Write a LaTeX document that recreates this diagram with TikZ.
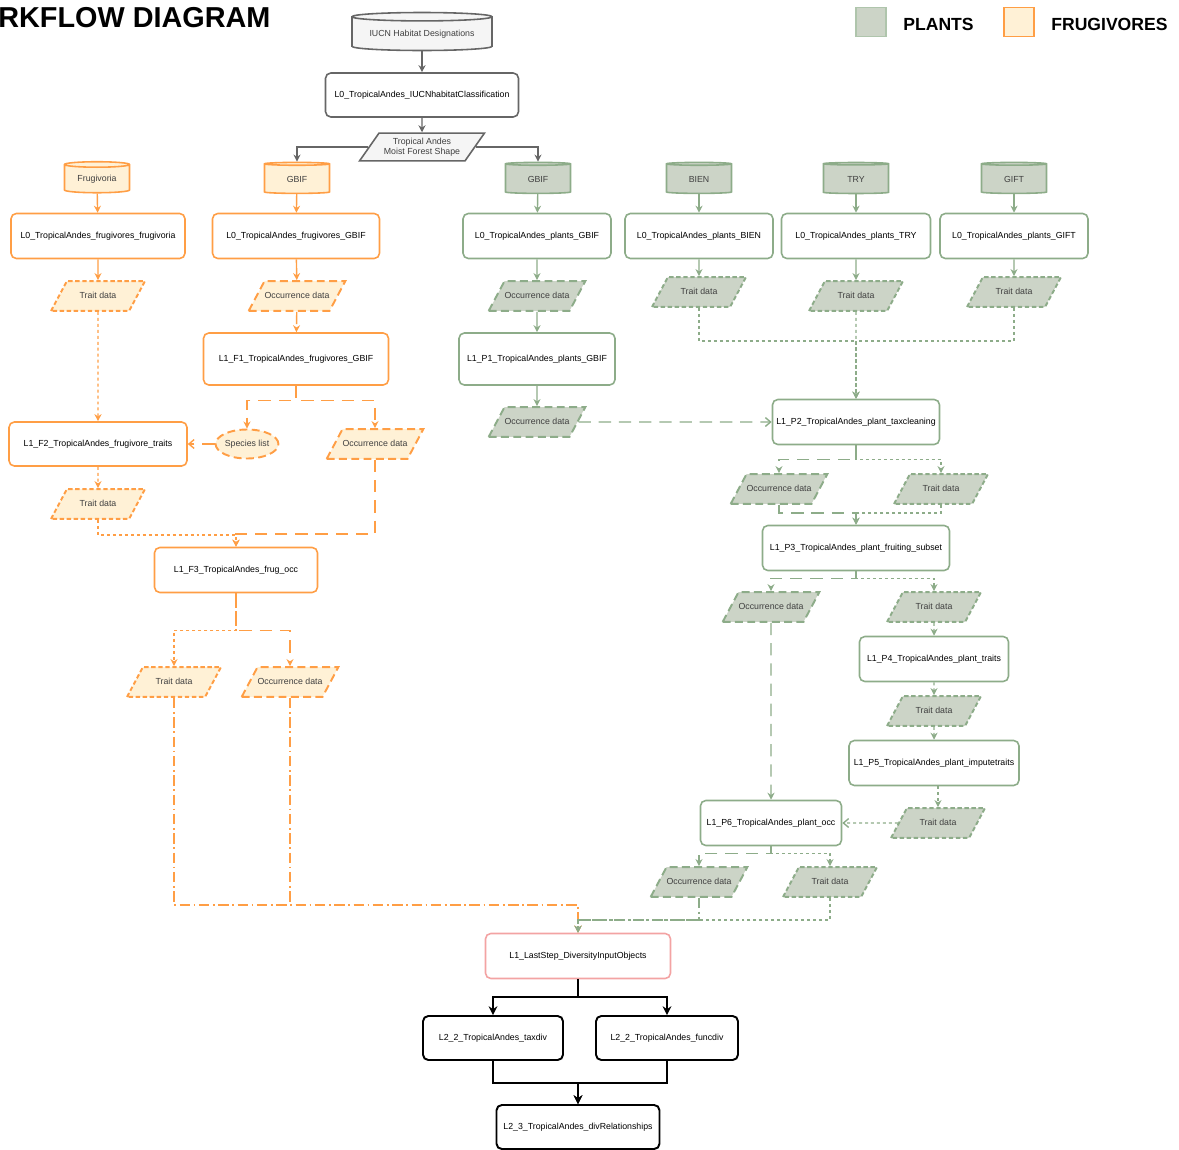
\documentclass[tikz,border=0pt]{standalone}
\usepackage{fontspec}
\setmainfont{Liberation Sans}
\usetikzlibrary{arrows.meta, shapes.geometric}

\definecolor{frugline}{HTML}{FF9E45}
\definecolor{frugfill}{HTML}{FFF1D6}
\definecolor{plantline}{HTML}{8DAC89}
\definecolor{plantfill}{HTML}{CCD4C7}
\definecolor{greyline}{HTML}{666666}
\definecolor{greyfill}{HTML}{F5F5F5}
\definecolor{lastline}{HTML}{F3A3A3}
\definecolor{datatext}{HTML}{404040}

\begin{document}
\begin{tikzpicture}[x=0.02cm, y=-0.02cm,
        >={Stealth[length=4pt, width=4pt]},
        font=\fontsize{5}{6}\selectfont,
        box/.style={rectangle, rounded corners=3pt, line width=0.9pt, fill=white, minimum height=0.9cm, inner sep=1pt},
        db/.style={cylinder, shape border rotate=90, aspect=0.14, line width=0.9pt, minimum width=1.3cm, minimum height=0.62cm, inner sep=0pt, text=datatext},
        data/.style={trapezium, trapezium left angle=62, trapezium right angle=118, trapezium stretches body, line width=1.1pt, minimum width=1.88cm, text height=4pt, text depth=1pt, inner xsep=0pt, inner ysep=6pt, text=datatext},
        traitdash/.style={dash pattern=on 2.5pt off 1.5pt},
        occdash/.style={dash pattern=on 4.5pt off 2.5pt},
        sline/.style={->, line width=0.8pt, dash pattern=on 1.7pt off 1.7pt},
        lline/.style={->, line width=0.8pt, dash pattern=on 7pt off 4.5pt},
        dline/.style={->, line width=0.8pt, dash pattern=on 6pt off 2pt on 1pt off 2pt},
        openhead/.style={-{Straight Barb[length=3pt, width=5pt]}}
    ]
    \useasboundingbox (0,0) rectangle (1179,1149);

    % title and legend
    \node[anchor=west, inner sep=0pt, font=\fontsize{16.4}{18}\selectfont\bfseries] (53) at (-2,18) {RKFLOW DIAGRAM};
    \node[draw=plantline!70, fill=plantfill, line width=0.9pt, minimum width=0.6cm, minimum height=0.58cm] (49) at (871,22) {};
    \node[anchor=west, inner sep=0pt, font=\fontsize{10}{12}\selectfont\bfseries] (50) at (903,24) {PLANTS};
    \node[draw=frugline, fill=frugfill, line width=0.9pt, minimum width=0.6cm, minimum height=0.58cm] (51) at (1019,22) {};
    \node[anchor=west, inner sep=0pt, font=\fontsize{10}{12}\selectfont\bfseries] (52) at (1051,24) {FRUGIVORES};

    % habitat input
    \node[db, draw=greyline, fill=greyfill, minimum width=2.8cm, minimum height=0.76cm, aspect=0.08] (1) at (422,34) {IUCN Habitat Designations};
    \node[box, draw=greyline, minimum width=3.86cm, minimum height=0.88cm] (2) at (422,95) {L0\_TropicalAndes\_IUCNhabitatClassification};
    \node[data, draw=greyline, fill=greyfill, line width=0.9pt, trapezium left angle=55, trapezium right angle=125, minimum width=2.5cm, text height=, text depth=, inner ysep=2.6pt, align=center] (3) at (422,147) {Tropical Andes\\Moist Forest Shape};

    % frugivores
    \begin{scope}[every node/.append style={draw=frugline}]
        \node[db, fill=frugfill] (4) at (97,179) {Frugivoria};
        \node[db, fill=frugfill] (5) at (297,179) {GBIF};
        \node[box, minimum width=3.48cm] (10) at (98,236) {L0\_TropicalAndes\_frugivores\_frugivoria};
        \node[box, minimum width=3.34cm] (11) at (296,236) {L0\_TropicalAndes\_frugivores\_GBIF};
        \node[data, traitdash, fill=frugfill] (16) at (98,296) {Trait data};
        \node[data, occdash, fill=frugfill] (17) at (297,296) {Occurrence data};
        \node[box, minimum width=3.7cm, minimum height=1.04cm] (22) at (296,359) {L1\_F1\_TropicalAndes\_frugivores\_GBIF};
        \node[ellipse, occdash, fill=frugfill, line width=1.1pt, text=datatext, minimum width=1.18cm, minimum height=0.58cm, inner sep=0pt] (26) at (247,444) {Species list};
        \node[data, occdash, fill=frugfill] (27) at (375,444) {Occurrence data};
        \node[box, minimum width=3.56cm, minimum height=0.88cm] (28) at (98,444) {L1\_F2\_TropicalAndes\_frugivore\_traits};
        \node[data, traitdash, fill=frugfill] (29) at (98,504) {Trait data};
        \node[box, minimum width=3.26cm] (30) at (236,570) {L1\_F3\_TropicalAndes\_frug\_occ};
        \node[data, traitdash, fill=frugfill] (31) at (174,682) {Trait data};
        \node[data, occdash, fill=frugfill] (32) at (290,682) {Occurrence data};
    \end{scope}

    % plants
    \begin{scope}[every node/.append style={draw=plantline}]
        \node[db, fill=plantfill] (6) at (538,179) {GBIF};
        \node[db, fill=plantfill] (7) at (699,179) {BIEN};
        \node[db, fill=plantfill] (8) at (856,179) {TRY};
        \node[db, fill=plantfill] (9) at (1014,179) {GIFT};
        \node[box, minimum width=2.96cm] (12) at (537,236) {L0\_TropicalAndes\_plants\_GBIF};
        \node[box, minimum width=2.96cm] (13) at (699,236) {L0\_TropicalAndes\_plants\_BIEN};
        \node[box, minimum width=2.98cm] (14) at (856,236) {L0\_TropicalAndes\_plants\_TRY};
        \node[box, minimum width=2.96cm] (15) at (1014,236) {L0\_TropicalAndes\_plants\_GIFT};
        \node[data, occdash, fill=plantfill] (18) at (537,296) {Occurrence data};
        \node[data, traitdash, fill=plantfill] (19) at (699,292) {Trait data};
        \node[data, traitdash, fill=plantfill] (20) at (856,296) {Trait data};
        \node[data, traitdash, fill=plantfill] (21) at (1014,292) {Trait data};
        \node[box, minimum width=3.12cm, minimum height=1.04cm] (23) at (537,359) {L1\_P1\_TropicalAndes\_plants\_GBIF};
        \node[data, occdash, fill=plantfill] (24) at (537,422) {Occurrence data};
        \node[box, minimum width=3.34cm] (25) at (856,422) {L1\_P2\_TropicalAndes\_plant\_taxcleaning};
        \node[data, occdash, fill=plantfill] (33) at (779,489) {Occurrence data};
        \node[data, traitdash, fill=plantfill] (34) at (941,489) {Trait data};
        \node[box, minimum width=3.74cm] (35) at (856,548) {L1\_P3\_TropicalAndes\_plant\_fruiting\_subset};
        \node[data, occdash, fill=plantfill] (36) at (771,607) {Occurrence data};
        \node[data, traitdash, fill=plantfill] (37) at (934,607) {Trait data};
        \node[box, minimum width=2.98cm] (38) at (934,659) {L1\_P4\_TropicalAndes\_plant\_traits};
        \node[data, traitdash, fill=plantfill] (39) at (934,711) {Trait data};
        \node[box, minimum width=3.4cm] (40) at (934,763) {L1\_P5\_TropicalAndes\_plant\_imputetraits};
        \node[data, traitdash, fill=plantfill] (41) at (938,823) {Trait data};
        \node[box, minimum width=2.82cm] (42) at (771,823) {L1\_P6\_TropicalAndes\_plant\_occ};
        \node[data, occdash, fill=plantfill] (43) at (699,882) {Occurrence data};
        \node[data, traitdash, fill=plantfill] (44) at (830,882) {Trait data};
    \end{scope}

    % diversity
    \node[box, draw=lastline, minimum width=3.7cm] (45) at (578,956) {L1\_LastStep\_DiversityInputObjects};
    \node[box, draw=black, line width=1.1pt, minimum width=2.8cm, minimum height=0.88cm] (46) at (493,1038) {L2\_2\_TropicalAndes\_taxdiv};
    \node[box, draw=black, line width=1.1pt, minimum width=2.84cm, minimum height=0.88cm] (47) at (667,1038) {L2\_2\_TropicalAndes\_funcdiv};
    \node[box, draw=black, line width=1.1pt, minimum width=3.26cm, minimum height=0.88cm] (48) at (578,1127) {L2\_3\_TropicalAndes\_divRelationships};

    % habitat connectors
    \draw[->, greyline, line width=0.8pt] (1) -- (2);
    \draw[->, greyline, line width=0.8pt] (2) -- (3);
    \draw[->, greyline, line width=0.8pt] (3) -| (5);
    \draw[->, greyline, line width=0.8pt] (3) -| (6);

    % frugivore connectors
    \begin{scope}[frugline]
        \draw[->, line width=0.8pt] (4) -- (10);
        \draw[->, line width=0.8pt] (5) -- (11);
        \draw[->, line width=0.8pt] (10) -- (16);
        \draw[->, line width=0.8pt] (11) -- (17);
        \draw[lline] (17) -- (22);
        \draw[sline] (16) -- (28);
        \draw[lline] (22.south) -- ++(0,15) -| (26.north);
        \draw[lline] (22.south) -- ++(0,15) -| (27.north);
        \draw[lline, openhead] (26) -- (28);
        \draw[sline] (28) -- (29);
        \draw[sline] (29.south) -- ++(0,15) -| (30.north);
        \draw[lline] (27.south) -- ++(0,74) -| (30.north);
        \draw[sline] (30.south) -- ++(0,37) -| (31.north);
        \draw[lline] (30.south) -- ++(0,37) -| (32.north);
        \draw[dline] (31.south) -- ++(0,207) -| (45.north);
        \draw[dline] (32.south) -- ++(0,207) -| (45.north);
    \end{scope}

    % plant connectors
    \begin{scope}[plantline]
        \draw[->, line width=0.8pt] (6) -- (12);
        \draw[->, line width=0.8pt] (7) -- (13);
        \draw[->, line width=0.8pt] (8) -- (14);
        \draw[->, line width=0.8pt] (9) -- (15);
        \draw[->, line width=0.8pt] (12) -- (18);
        \draw[->, line width=0.8pt] (13) -- (19);
        \draw[->, line width=0.8pt] (14) -- (20);
        \draw[->, line width=0.8pt] (15) -- (21);
        \draw[->, line width=0.8pt] (18) -- (23);
        \draw[->, line width=0.8pt] (23) -- (24);
        \draw[sline] (19.south) -- ++(0,33) -| (25.north);
        \draw[sline] (21.south) -- ++(0,33) -| (25.north);
        \draw[sline] (20) -- (25);
        \draw[lline, openhead] (24) -- (25);
        \draw[lline] (25.south) -- ++(0,14) -| (33.north);
        \draw[sline] (25.south) -- ++(0,14) -| (34.north);
        \draw[lline] (33.south) -- ++(0,8) -| (35.north);
        \draw[sline] (34.south) -- ++(0,8) -| (35.north);
        \draw[lline] (35.south) -- ++(0,7) -| (36.north);
        \draw[sline] (35.south) -- ++(0,7) -| (37.north);
        \draw[sline] (37) -- (38);
        \draw[sline] (38) -- (39);
        \draw[sline] (39) -- (40);
        \draw[sline] (40.south -| 41.north) -- (41.north);
        \draw[sline, openhead] (41) -- (42);
        \draw[lline] (36) -- (42);
        \draw[lline] (42.south) -- ++(0,7) -| (43.north);
        \draw[sline] (42.south) -- ++(0,7) -| (44.north);
        \draw[sline] (44.south) -- ++(0,22) -| (45.north);
        \draw[dline] (43.south) -- ++(0,22) -| (45.north);
    \end{scope}

    % diversity connectors
    \begin{scope}[line width=1.1pt, >={Stealth[length=5pt, width=5pt]}]
        \draw[->] (45.south) -- ++(0,18) -| (46.north);
        \draw[->] (45.south) -- ++(0,18) -| (47.north);
        \draw[->] (46.south) -- ++(0,22) -| (48.north);
        \draw[->] (47.south) -- ++(0,22) -| (48.north);
    \end{scope}
\end{tikzpicture}
\end{document}
